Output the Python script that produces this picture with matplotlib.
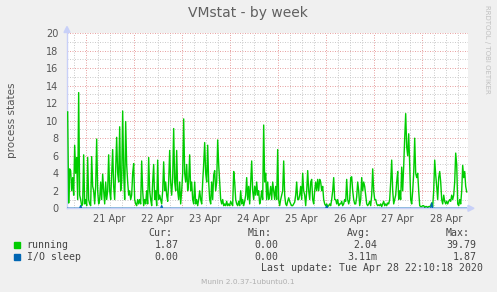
# ───────────────────────── Imports ─────────────────────────
import numpy as np
import pandas as pd
import matplotlib
matplotlib.use("Agg")
import matplotlib.pyplot as plt
import matplotlib.dates as mdates
from matplotlib.ticker import MultipleLocator, FuncFormatter
from matplotlib.patches import Rectangle, Polygon

# ───────────────────────── Data (30 min steps) ─────────────────────────
start_time = "2020-04-20 15:00"
running = [
    11.0, 0.6, 4.5, 4.3, 2.0, 3.5, 1.5, 7.2, 4.0, 5.8,
    1.0, 13.2, 1.5, 1.0, 0.3, 0.5, 6.1, 0.5, 1.0, 0.3,
    5.8, 1.0, 0.5, 0.3, 5.9, 2.5, 2.0, 0.5, 2.5, 7.9,
    2.0, 0.5, 1.0, 3.0, 1.0, 3.9, 2.0, 0.5, 3.0, 1.0,
    2.0, 6.1, 2.0, 1.0, 4.0, 6.7, 2.5, 1.0, 4.5, 8.1,
    4.0, 3.0, 9.3, 2.0, 3.0, 11.1, 4.0, 1.0, 9.9, 5.0,
    3.0, 1.5, 2.0, 1.0, 1.5, 4.0, 5.1, 1.0, 0.5, 0.3,
    1.0, 0.5, 1.0, 0.5, 5.4, 2.0, 0.3, 1.0, 0.5, 2.0,
    0.5, 5.8, 2.0, 1.0, 0.3, 3.0, 5.0, 1.0, 2.0, 0.3,
    5.5, 1.0, 1.5, 1.0, 0.5, 2.0, 5.3, 2.0, 3.0, 1.5,
    0.8, 3.0, 6.6, 3.0, 1.5, 3.5, 9.1, 3.0, 2.0, 6.6,
    2.0, 1.0, 3.0, 0.5, 2.0, 4.0, 10.2, 4.0, 3.0, 5.0,
    2.0, 3.0, 6.1, 2.0, 3.0, 1.0, 0.5, 3.0, 0.5, 1.0,
    0.3, 1.0, 2.0, 1.0, 0.5, 3.0, 5.0, 7.5, 4.0, 3.0,
    7.2, 3.0, 1.0, 0.5, 3.0, 1.0, 3.8, 4.3, 2.0, 3.0,
    7.8, 5.0, 3.0, 1.0, 0.5, 1.0, 0.3, 0.5, 0.3, 0.8,
    0.3, 0.5, 0.3, 0.8, 0.5, 0.3, 4.2, 3.0, 1.0, 0.5,
    0.3, 0.8, 0.3, 2.0, 0.5, 1.0, 0.3, 0.8, 1.5, 3.5,
    1.0, 2.5, 0.5, 3.0, 5.4, 2.0, 1.0, 2.5, 1.5, 3.0,
    1.5, 2.0, 0.5, 1.0, 2.0, 1.0, 9.5, 3.0, 4.0, 1.0,
    3.0, 1.0, 1.5, 2.5, 1.0, 3.0, 2.0, 1.0, 2.5, 1.0,
    6.7, 1.0, 0.3, 1.0, 1.5, 2.0, 5.4, 1.5, 0.5, 0.3,
    0.8, 1.2, 0.8, 0.5, 0.3, 0.3, 0.5, 0.7, 1.5, 3.0,
    1.0, 1.0, 1.5, 2.5, 1.0, 4.0, 2.0, 1.5, 0.3, 2.0,
    4.3, 2.0, 1.0, 3.0, 3.3, 1.0, 0.5, 2.0, 3.0, 2.0,
    3.3, 2.0, 3.3, 3.0, 2.0, 2.5, 1.0, 0.5, 0.3, 0.5,
    0.2, 0.3, 0.5, 0.3, 1.0, 2.0, 3.5, 1.0, 1.0, 0.5,
    1.0, 0.3, 0.5, 0.5, 0.8, 0.3, 0.5, 1.0, 0.8, 3.3,
    1.0, 0.5, 1.0, 3.5, 3.6, 2.0, 1.0, 0.5, 0.5, 1.3,
    3.0, 2.0, 0.3, 1.0, 3.5, 2.0, 3.0, 2.5, 1.5, 0.5,
    0.3, 0.5, 0.8, 0.3, 1.5, 4.5, 2.0, 1.0, 1.0, 0.5,
    0.3, 0.4, 0.3, 0.5, 0.2, 0.5, 0.8, 0.3, 0.5, 0.3,
    0.6, 0.5, 1.0, 3.0, 5.5, 2.0, 0.5, 1.0, 1.5, 3.0,
    4.2, 1.0, 2.0, 1.0, 4.7, 2.0, 4.8, 8.0, 10.8, 7.0,
    6.0, 8.5, 5.0, 1.0, 0.5, 2.0, 4.0, 8.0, 4.0, 3.5,
    4.0, 2.0, 0.3, 0.2, 0.2, 0.3, 0.3, 0.1, 0.2, 0.2,
    0.1, 0.2, 0.2, 0.3, 0.6, 0.2, 2.0, 5.5, 3.8, 2.5,
    1.0, 3.5, 4.2, 3.0, 1.0, 0.5, 1.5, 0.8, 0.5, 0.8,
    0.5, 0.8, 1.0, 0.8, 1.5, 1.0, 1.5, 3.0, 6.3, 5.0,
    0.5, 0.3, 1.0, 0.5, 2.0, 4.9, 3.5, 4.2, 2.5, 1.87,
]
# I/O sleep is zero except a few small bumps: (sample index, value)
io_sleep_bumps = [(13, 0.3), (94, 0.3), (259, 0.3), (364, 0.6)]

series_names = ["running", "I/O sleep"]
series_colors = ["#00cc00", "#0066b3"]
cur_values = ["1.87", "0.00"]
min_values = ["0.00", "0.00"]
avg_values = ["2.04", "3.11m"]
max_values = ["39.79", "1.87"]
last_update = "Last update: Tue Apr 28 22:10:18 2020"

# ───────────────────────── Build series ─────────────────────────
times = pd.date_range(start_time, periods=len(running), freq="30min")
io_sleep = np.zeros(len(running))
for idx, val in io_sleep_bumps:
    io_sleep[idx] = val

# ───────────────────────── Figure ─────────────────────────
W, H = 497, 292
fig = plt.figure(figsize=(W / 100, H / 100), dpi=100, facecolor="#f0f0f0")


def px(x, y):
    return (x / W, 1 - y / H)


ax = fig.add_axes([67 / W, 1 - 208.3 / H, 400.7 / W, 175.3 / H])
ax.set_facecolor("white")

ax.plot(times, running, color=series_colors[0], lw=1.0, zorder=3)
ax.plot(times, io_sleep, color=series_colors[1], lw=1.0, zorder=4)

ax.set_xlim(pd.Timestamp("2020-04-20 14:40"), pd.Timestamp("2020-04-28 23:00"))
ax.set_ylim(0, 20)

# grid: red at midnight / even values, grey at 6h / odd values
ax.xaxis.set_major_locator(mdates.HourLocator(byhour=[0]))
ax.xaxis.set_minor_locator(mdates.HourLocator(byhour=[6, 12, 18]))
ax.xaxis.set_major_formatter(FuncFormatter(lambda v, p: ""))
ax.xaxis.set_minor_formatter(FuncFormatter(
    lambda v, p: mdates.num2date(v).strftime("%d %b") if mdates.num2date(v).hour == 12 else ""))
ax.yaxis.set_major_locator(MultipleLocator(2))
ax.yaxis.set_minor_locator(MultipleLocator(1))

dots = (0, (1, 1.5))
ax.grid(which="major", color="#e8a4a4", lw=0.72, ls=dots, zorder=1)
ax.grid(which="minor", color="#cdcdcd", lw=0.72, ls=dots, zorder=1)
ax.set_axisbelow(True)

ax.tick_params(which="both", length=0, colors="#555555", labelsize=7)
ax.tick_params(axis="x", which="minor", pad=4)
ax.tick_params(axis="y", pad=6)

for side in ["top", "right"]:
    ax.spines[side].set_visible(False)
for side in ["left", "bottom"]:
    ax.spines[side].set_color("#c8d0f8")
    ax.spines[side].set_linewidth(1.0)

# axis arrows
fig.add_artist(Polygon([px(67, 26.5), px(64, 32.5), px(70, 32.5)], closed=True,
                       transform=fig.transFigure, color="#c8d0f8"))
fig.add_artist(Polygon([px(474, 208.3), px(468, 205.3), px(468, 211.3)], closed=True,
                       transform=fig.transFigure, color="#c8d0f8"))

# ───────────────────────── Texts ─────────────────────────
fig.text(*px(248, 13), "VMstat - by week", ha="center", va="center",
         fontsize=10, color="#606060")
fig.text(*px(12, 120), "process states", ha="center", va="center",
         rotation=90, fontsize=7.5, color="#555555")
fig.text(*px(487.5, 5), "RRDTOOL / TOBI OETIKER", ha="center", va="top",
         rotation=270, fontsize=5, color="#c0c0c0")

mono = dict(family="DejaVu Sans Mono", fontsize=7.1, color="#444444", va="center")
headers = ["Cur:", "Min:", "Avg:", "Max:"]
header_right = [172, 272, 371, 470]
for txt, xr in zip(headers, header_right):
    fig.text(*px(xr, 233), txt, ha="right", **mono)

value_right = [178.3, 278.3, 377.7, 476.7]
row_y = [244.7, 256.7]
for r, name in enumerate(series_names):
    fig.add_artist(Rectangle(px(14, row_y[r] + 3), 6 / W, 6 / H,
                             transform=fig.transFigure, color=series_colors[r]))
    fig.text(*px(26.7, row_y[r]), name, ha="left", **mono)
    for col, xr in zip([cur_values, min_values, avg_values, max_values], value_right):
        fig.text(*px(xr, row_y[r]), col[r], ha="right", **mono)

fig.text(*px(482.7, 268.3), last_update, ha="right", **mono)
fig.text(*px(248, 281.7), "Munin 2.0.37-1ubuntu0.1", ha="center", va="center",
         fontsize=5.3, color="#b0b0b0")

fig.savefig("out.png", dpi=100, facecolor=fig.get_facecolor())
